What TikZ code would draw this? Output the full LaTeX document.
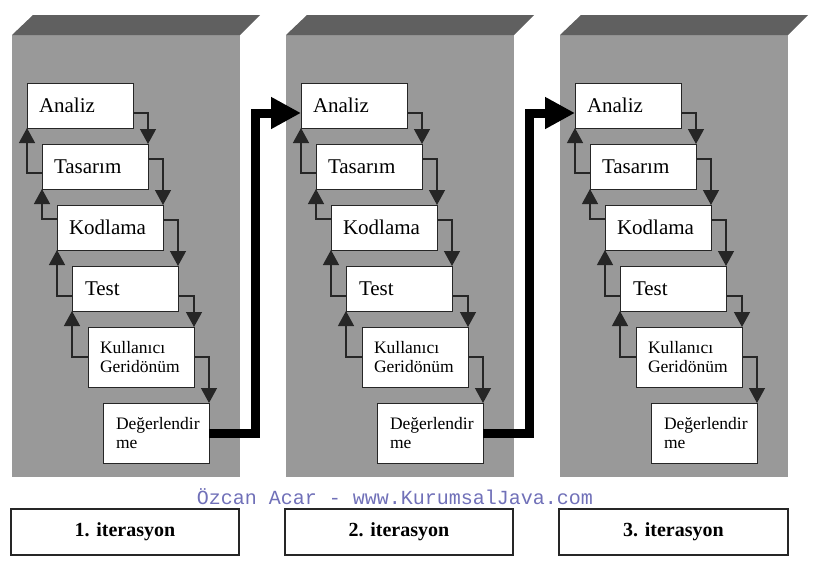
\documentclass[tikz,border=0pt]{standalone}
\usepackage{fontspec}
\setmainfont{Liberation Serif}
\newfontfamily\wmfont{Liberation Mono}
\usetikzlibrary{arrows.meta,calc}
\definecolor{panelfront}{HTML}{999999}
\definecolor{paneltop}{HTML}{606060}
\definecolor{wmcolor}{HTML}{7070B8}
\definecolor{linecol}{HTML}{262626}
\begin{document}
\begin{tikzpicture}[x=1pt,y=-1pt,
  box/.style={draw=linecol, fill=white, line width=1pt, anchor=north west,
    inner xsep=12pt, inner ysep=0pt, outer sep=0pt, align=left,
    text width=82pt, minimum height=45pt, font=\fontsize{21}{23}\selectfont},
  smallbox/.style={box, minimum height=60pt, font=\fontsize{17.5}{19.5}\selectfont},
  conn/.style={draw=linecol, line width=1.3pt, -{Triangle[length=15pt,width=16pt]}},
  bigarrow/.style={draw=black, line width=9pt, line join=miter,
    -{Triangle[length=30pt,width=30pt]}},
  iterbox/.style={draw=linecol, fill=white, line width=1.2pt, minimum height=46pt,
    inner sep=0pt, font=\bfseries\fontsize{20}{22}\selectfont},
  watermark/.style={text=wmcolor, inner sep=0pt, font=\wmfont\fontsize{20}{22}\selectfont}]
\useasboundingbox (0,0) rectangle (814,568);
\foreach \p/\dx in {1/0,2/274,3/548} {
  \fill[panelfront] (12+\dx,35) rectangle (240+\dx,477);
  \fill[paneltop] (12+\dx,35) -- (33+\dx,15) -- (260+\dx,15) -- (240+\dx,35) -- cycle;
  \node[box] (a\p) at (27+\dx,83) {Analiz};
  \node[box] (b\p) at (42+\dx,144) {Tasar\i m};
  \node[box] (c\p) at (57+\dx,205) {Kodlama};
  \node[box, inner xsep=13pt, text width=80pt] (e\p) at (72+\dx,266) {Test};
  \node[smallbox] (f\p) at (88+\dx,327) {Kullan\i c\i\\Gerid\"on\"um};
  \node[smallbox, inner xsep=13pt, text width=80pt] (d\p) at (103+\dx,403) {De\u{g}erlendir\\me};
  % down connectors
  \draw[conn] ($(a\p.north east)+(0,30)$) -| (b\p.north east);
  \draw[conn] ($(b\p.north east)+(0,15)$) -| (c\p.north east);
  \draw[conn] ($(c\p.north east)+(0,15)$) -| (e\p.north east);
  \draw[conn] ($(e\p.north east)+(0,30)$) -| (f\p.north east);
  \draw[conn] ($(f\p.north east)+(0,30)$) -| (d\p.north east);
  % up connectors
  \draw[conn] ($(b\p.north west)+(0,29)$) -| (a\p.south west);
  \draw[conn] ($(c\p.north west)+(0,14)$) -| (b\p.south west);
  \draw[conn] ($(e\p.north west)+(0,30)$) -| (c\p.south west);
  \draw[conn] ($(f\p.north west)+(0,30)$) -| (e\p.south west);
}
\draw[bigarrow] ($(d1.north east)+(0,30)$) -- ++(46,0) |- ($(a2.north west)+(0,30)$);
\draw[bigarrow] ($(d2.north east)+(0,30)$) -- ++(46,0) |- ($(a3.north west)+(0,30)$);
\node[watermark] (wm) at (395,497) {\"Ozcan Acar - www.KurumsalJava.com};
\node[iterbox, minimum width=228pt] (i1) at (125,532) {1. iterasyon};
\node[iterbox, minimum width=228pt] (i2) at (399,532) {2. iterasyon};
\node[iterbox, minimum width=229pt] (i3) at (673.5,532) {3. iterasyon};
\end{tikzpicture}
\end{document}
